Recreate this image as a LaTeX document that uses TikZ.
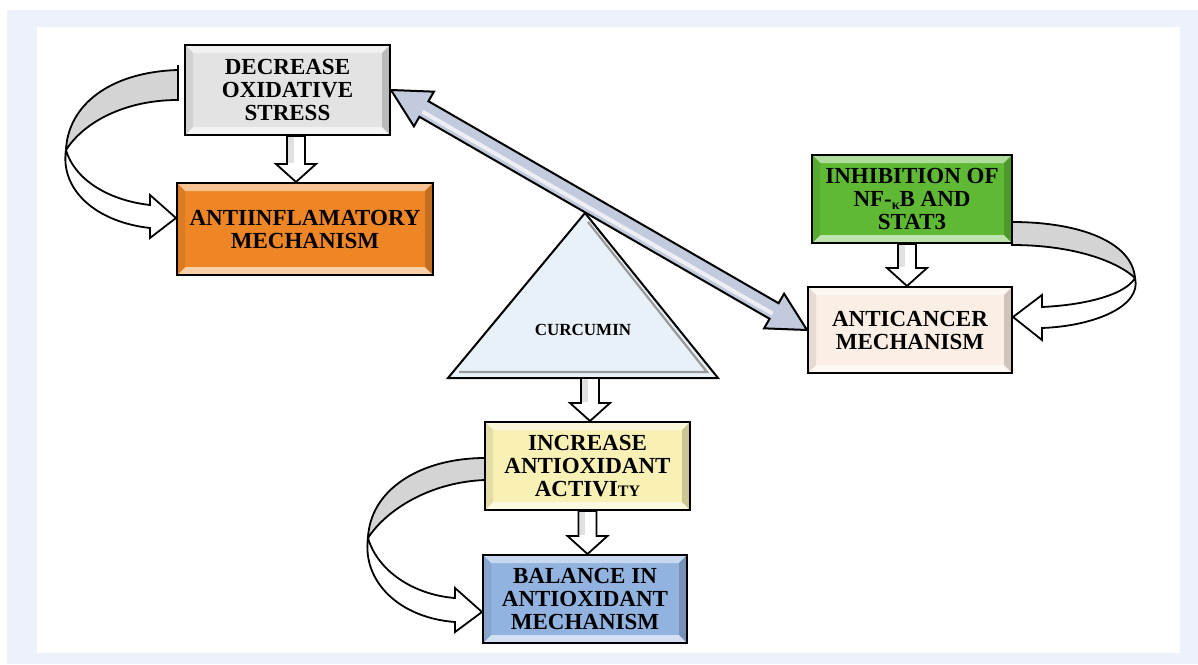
\documentclass[tikz,border=0pt]{standalone}
\usepackage{fontspec}
\setmainfont{Liberation Serif}
\usetikzlibrary{calc}
\definecolor{framebg}{HTML}{EDF1F9}
\definecolor{cgray}{HTML}{E3E3E3}
\definecolor{corange}{HTML}{EE8626}
\definecolor{cgreen}{HTML}{5FB934}
\definecolor{ccream}{HTML}{FBEFE5}
\definecolor{cyellow}{HTML}{F8F0B4}
\definecolor{cblue}{HTML}{92B2DF}
\definecolor{ctri}{HTML}{E8F0F8}
\definecolor{cdiag}{HTML}{C2CBDD}
\definecolor{cribbon}{HTML}{D4D4D4}
\newcommand{\myvarrow}[3]{\filldraw[blk] let \p1=($(#1)+(#3,0)$), \p2=(#2) in
  (\x1-4.5pt,\y1) -- (\x1-4.5pt,\y2+9pt) -- (\x1-10pt,\y2+9pt) -- (\x1,\y2) --
  (\x1+10pt,\y2+9pt) -- (\x1+4.5pt,\y2+9pt) -- (\x1+4.5pt,\y1) -- cycle;
  \fill[cribbon!70!white] let \p1=($(#1)+(#3,0)$), \p2=(#2) in
  (\x1-3.8pt,\y1-0.6pt) rectangle (\x1-1.2pt,\y2+9.6pt);}
\begin{document}
\begin{tikzpicture}[x=0.5pt,y=-0.5pt,
  bx/.style={draw=black, line width=1pt, fill=#1, inner sep=0pt, align=center,
    font=\bfseries\fontsize{11.5}{11.5}\selectfont,
    path picture={
      \fill[#1!50!white] (path picture bounding box.north west) -- (path picture bounding box.north east)
        -- ([xshift=-4pt,yshift=-4pt]path picture bounding box.north east) -- ([xshift=4pt,yshift=-4pt]path picture bounding box.north west) -- cycle;
      \fill[#1!40!white] (path picture bounding box.south west) -- (path picture bounding box.south east)
        -- ([xshift=-4pt,yshift=4pt]path picture bounding box.south east) -- ([xshift=4pt,yshift=4pt]path picture bounding box.south west) -- cycle;
      \fill[#1!92!black] (path picture bounding box.north west) -- (path picture bounding box.south west)
        -- ([xshift=4pt,yshift=4pt]path picture bounding box.south west) -- ([xshift=4pt,yshift=-4pt]path picture bounding box.north west) -- cycle;
      \fill[#1!82!black] (path picture bounding box.north east) -- (path picture bounding box.south east)
        -- ([xshift=-4pt,yshift=4pt]path picture bounding box.south east) -- ([xshift=-4pt,yshift=-4pt]path picture bounding box.north east) -- cycle;
    }},
  blk/.style={draw=black, line width=0.9pt, fill=white},
  ribgray/.style={draw=black, line width=0.9pt, fill=cribbon},
  ribwhite/.style={draw=black, line width=0.9pt, fill=white},
  diag/.style={draw=black, line width=1pt, fill=cdiag, line join=miter}]
\useasboundingbox (0,0) rectangle (1198,664);
\fill[framebg] (7,10) rectangle (1198,664);
\fill[white] (37,27) rectangle (1180,653);

% boxes
\node[bx=cgray, minimum width=102.5pt, minimum height=45pt] (dec) at (287.5,90) {DECREASE\\OXIDATIVE\\STRESS};
\node[bx=corange, minimum width=128pt, minimum height=46pt] (anti) at (305,229) {ANTIINFLAMATORY\\MECHANISM};
\node[bx=cgreen, minimum width=100pt, minimum height=44pt] (inh) at (912,199) {INHIBITION OF\\NF-{\fontsize{7}{7}\selectfont\raisebox{-1.5pt}{κ}}B AND\\STAT3};
\node[bx=ccream, minimum width=102pt, minimum height=43pt] (ac) at (910,330) {ANTICANCER\\MECHANISM};
\node[bx=cyellow, minimum width=102.5pt, minimum height=44pt] (inc) at (587.5,466) {INCREASE\\ANTIOXIDANT\\ACTIVI{\fontsize{8}{8}\selectfont TY}};
\node[bx=cblue, minimum width=102pt, minimum height=44pt] (bal) at (585,599) {BALANCE IN\\ANTIOXIDANT\\MECHANISM};

% triangle
\coordinate (tA) at (585,213);
\coordinate (tL) at (448,378);
\coordinate (tR) at (718,378);
\coordinate (tB) at (590,378);
\filldraw[fill=ctri, draw=black, line width=1pt, line join=miter] (tA) -- (tR) -- (tL) -- cycle;
\draw[draw=gray!80, line width=1.1pt] (588,222) -- (707,372) -- (459,372);
\node[font=\bfseries\fontsize{8.5}{9}\selectfont] (cur) at (583,330) {CURCUMIN};

% vertical block arrows
\myvarrow{dec.south}{anti.north}{8.5}
\myvarrow{inh.south}{ac.north}{-5}
\myvarrow{tB}{inc.north}{0}
\myvarrow{inc.south}{bal.north}{0}

% diagonal double arrow
\coordinate (P1) at (dec.east);
\coordinate (P2) at (ac.west);
\coordinate (B1) at ($(P1)!19pt!(P2)$);
\coordinate (B2) at ($(P2)!19pt!(P1)$);
\filldraw[diag] (P1) -- ($(B1)!10pt!90:(P2)$) -- ($(B1)!4.5pt!90:(P2)$) -- ($(B2)!4.5pt!-90:(P1)$)
  -- ($(B2)!10pt!-90:(P1)$) -- (P2) -- ($(B2)!10pt!90:(P1)$) -- ($(B2)!4.5pt!90:(P1)$)
  -- ($(B1)!4.5pt!-90:(P2)$) -- ($(B1)!10pt!-90:(P2)$) -- cycle;
\draw[white!70!cdiag, line width=2pt] ($(B1)!1.5pt!-90:(P2)$) -- ($(B2)!1.5pt!90:(P1)$);

% left ribbon (decrease -> antiinflammatory)
\coordinate (L1) at (178,70);
\coordinate (L2) at (178,100);
\coordinate (LT) at (66,150);
\filldraw[ribgray] (L1) .. controls (110,72) and (68,105) .. (LT) .. controls (84,122) and (125,100) .. (L2) -- cycle;
\draw[line width=0.9pt] (178,65) -- (178,101);
\filldraw[ribwhite, line join=miter] (LT) .. controls (74,178) and (106,200) .. (150,205) -- (150,195) -- (anti.west |- 0,218)
  -- (150,238) -- (150,228) .. controls (96,222) and (60,190) .. (LT) -- cycle;

% right ribbon (inhibition -> anticancer)
\coordinate (R1) at (1012,222);
\coordinate (R2) at (1012,245);
\coordinate (RT) at (1135,278);
\filldraw[ribgray] (R1) .. controls (1080,222) and (1132,242) .. (RT) .. controls (1118,262) and (1075,245) .. (R2) -- cycle;
\filldraw[ribwhite, line join=miter] (RT) .. controls (1125,295) and (1085,305) .. (1042,307) -- (1042,295) -- (ac.east |- 0,317)
  -- (1042,340) -- (1042,328) .. controls (1095,326) and (1142,306) .. (RT) -- cycle;

% bottom ribbon (increase -> balance)
\coordinate (N1) at (485,458);
\coordinate (N2) at (485,480);
\coordinate (NT) at (368,538);
\filldraw[ribgray] (N1) .. controls (420,458) and (370,490) .. (NT) .. controls (386,510) and (430,482) .. (N2) -- cycle;
\filldraw[ribwhite, line join=miter] (NT) .. controls (378,572) and (415,595) .. (455,598) -- (455,588) -- (bal.west |- 0,612)
  -- (455,632) -- (455,622) .. controls (400,618) and (362,582) .. (NT) -- cycle;
\end{tikzpicture}
\end{document}
